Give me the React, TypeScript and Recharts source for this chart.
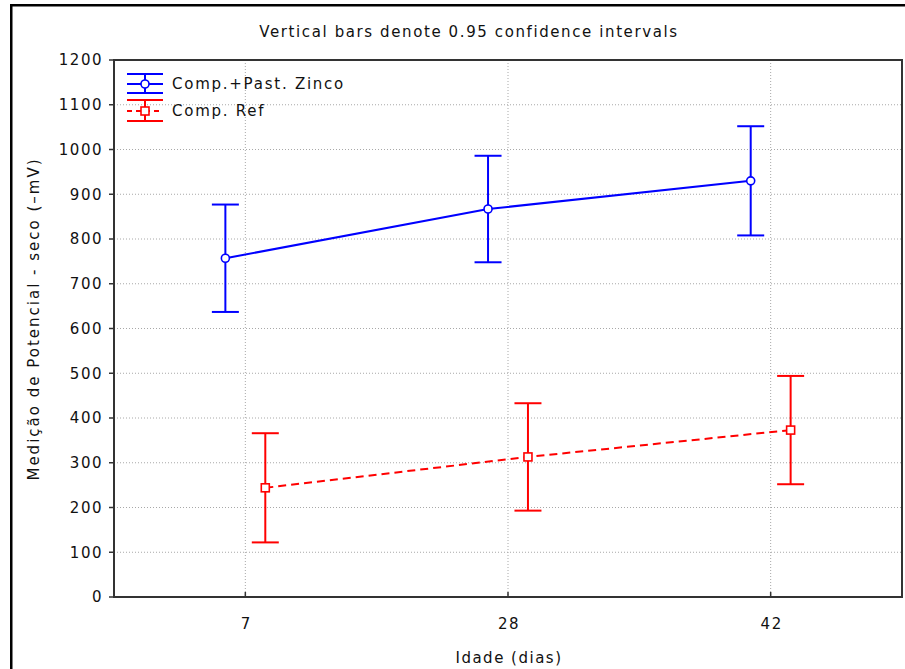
import React from 'react';
import {
  ComposedChart,
  Line,
  XAxis,
  YAxis,
  CartesianGrid,
  ErrorBar,
  ReferenceArea,
} from 'recharts';

// ---------- data ----------
const days = ['7', '28', '42'];
const zincoMean = [757, 867, 930];
const zincoCI = [120, 119, 122];
const refMean = [244, 313, 373];
const refCI = [122, 120, 121];
const yTicks = [0, 100, 200, 300, 400, 500, 600, 700, 800, 900, 1000, 1100, 1200];
const seriesNames = ['Comp.+Past. Zinco', 'Comp. Ref'];
const titleText = 'Vertical bars denote 0.95 confidence intervals';
const xLabelText = 'Idade (dias)';
const yLabelText = 'Medição de Potencial - seco (–mV)';

// ---------- style ----------
const W = 905;
const H = 669;
const FONT = '"DejaVu Sans", Verdana, sans-serif';
const FS = 15;
const TXT = '#111';
const BLUE = '#0000ff';
const RED = '#ff0000';
const DODGE = 0.076; // horizontal dodge of the two series, in category units
const X_TICK_MARGIN = 21;

const zincoData = days.map((d, i) => ({
  x: i - DODGE,
  y: zincoMean[i],
  err: [zincoCI[i], zincoCI[i]],
}));
const refData = days.map((d, i) => ({
  x: i + DODGE,
  y: refMean[i],
  err: [refCI[i], refCI[i]],
}));
const xTickValues = days.map((d, i) => i);

const XTick = (props: any) => {
  const { x, y, payload } = props;
  const axisY = y - X_TICK_MARGIN;
  return (
    <g>
      <line x1={x} x2={x} y1={axisY} y2={axisY - 5} stroke="#333" strokeWidth={1.5} />
      <text
        x={x + 1}
        y={y}
        dy="0.71em"
        textAnchor="middle"
        fill={TXT}
        fontFamily={FONT}
        fontSize={FS}
        letterSpacing={1.5}
      >
        {days[payload.value]}
      </text>
    </g>
  );
};

const YTick = (props: any) => {
  const { x, y, payload } = props;
  return (
    <text
      x={x}
      y={y}
      dy="0.355em"
      textAnchor="end"
      fill={TXT}
      fontFamily={FONT}
      fontSize={FS}
      letterSpacing={1.5}
    >
      {payload.value}
    </text>
  );
};

const SquareDot = (props: any) => {
  const { cx, cy, index } = props;
  return (
    <rect
      key={`sq-${index}`}
      x={cx - 4}
      y={cy - 4}
      width={8}
      height={8}
      fill="#fff"
      stroke={RED}
      strokeWidth={1.6}
    />
  );
};

export default function App() {
  return (
    <div style={{ position: 'absolute', left: 0, top: 0, width: W, height: H, overflow: 'hidden', background: '#fff' }}>
      <ComposedChart
        width={W}
        height={H}
        margin={{ top: 60, right: 3, bottom: 0, left: 0 }}
        style={{ position: 'absolute', left: 0, top: 0 }}
      >
        <CartesianGrid
          yAxisId="left"
          stroke="#a8a8a8"
          strokeDasharray="1 2"
          strokeWidth={1}
          horizontalValues={yTicks}
          verticalValues={xTickValues}
        />
        <XAxis
          dataKey="x"
          type="number"
          domain={[-0.5, 2.5]}
          ticks={xTickValues}
          allowDataOverflow
          height={72}
          tickLine={false}
          tickSize={0}
          tickMargin={X_TICK_MARGIN}
          axisLine={{ stroke: '#333', strokeWidth: 2 }}
          tick={<XTick />}
        />
        <YAxis
          yAxisId="left"
          type="number"
          domain={[0, 1200]}
          ticks={yTicks}
          width={114}
          tickSize={5}
          tickMargin={6}
          tickLine={{ stroke: '#333', strokeWidth: 1.5 }}
          axisLine={{ stroke: '#333', strokeWidth: 2 }}
          tick={<YTick />}
          interval={0}
        />
        <YAxis
          yAxisId="right"
          orientation="right"
          mirror
          type="number"
          domain={[0, 1200]}
          ticks={yTicks}
          tickSize={5}
          tick={false}
          tickLine={{ stroke: '#333', strokeWidth: 1.5 }}
          axisLine={false}
          interval={0}
        />
        <ReferenceArea
          yAxisId="left"
          x1={-0.5}
          x2={2.5}
          y1={0}
          y2={1200}
          fill="none"
          fillOpacity={0}
          stroke="#333"
          strokeWidth={2}
        />
        <Line
          yAxisId="left"
          data={zincoData}
          dataKey="y"
          name={seriesNames[0]}
          stroke={BLUE}
          strokeWidth={2}
          dot={{ r: 4, fill: '#fff', stroke: BLUE, strokeWidth: 1.6 }}
          activeDot={false}
          isAnimationActive={false}
        >
          <ErrorBar dataKey="err" direction="y" width={13.5} stroke={BLUE} strokeWidth={2} isAnimationActive={false} />
        </Line>
        <Line
          yAxisId="left"
          data={refData}
          dataKey="y"
          name={seriesNames[1]}
          stroke={RED}
          strokeWidth={2}
          strokeDasharray="8 5"
          dot={<SquareDot />}
          activeDot={false}
          isAnimationActive={false}
        >
          <ErrorBar dataKey="err" direction="y" width={13.5} stroke={RED} strokeWidth={2} isAnimationActive={false} />
        </Line>
      </ComposedChart>

      <svg
        width={W}
        height={H}
        style={{ position: 'absolute', left: 0, top: 0, pointerEvents: 'none' }}
      >
        {/* outer frame */}
        <rect x={11.25} y={5.25} width={1000} height={1000} fill="none" stroke="#000" strokeWidth={2.5} />
        {/* title */}
        <text x={469} y={37} textAnchor="middle" fill={TXT} fontFamily={FONT} fontSize={FS} letterSpacing={1.6}>
          {titleText}
        </text>
        {/* y label */}
        <text
          transform="translate(39,319) rotate(-90)"
          textAnchor="middle"
          fill={TXT}
          fontFamily={FONT}
          fontSize={FS}
          letterSpacing={2}
        >
          {yLabelText}
        </text>
        {/* x label */}
        <text x={509} y={663} textAnchor="middle" fill={TXT} fontFamily={FONT} fontSize={FS} letterSpacing={1.5}>
          {xLabelText}
        </text>

        {/* legend */}
        <g stroke={BLUE} strokeWidth={2} fill="none">
          <line x1={127} x2={163} y1={74} y2={74} />
          <line x1={127} x2={163} y1={84} y2={84} />
          <line x1={127} x2={163} y1={93} y2={93} />
          <line x1={145} x2={145} y1={74} y2={93} />
          <circle cx={145} cy={84} r={4} fill="#fff" strokeWidth={1.6} />
        </g>
        <text x={172} y={89} fill={TXT} fontFamily={FONT} fontSize={FS} letterSpacing={1.75}>
          {seriesNames[0]}
        </text>
        <g stroke={RED} strokeWidth={2} fill="none">
          <line x1={127} x2={163} y1={100} y2={100} />
          <line x1={127} x2={163} y1={111} y2={111} strokeDasharray="5 4" />
          <line x1={127} x2={163} y1={121} y2={121} />
          <line x1={145} x2={145} y1={100} y2={121} />
          <rect x={141} y={107} width={8} height={8} fill="#fff" strokeWidth={1.6} />
        </g>
        <text x={172} y={116} fill={TXT} fontFamily={FONT} fontSize={FS} letterSpacing={1.75}>
          {seriesNames[1]}
        </text>
      </svg>
    </div>
  );
}
